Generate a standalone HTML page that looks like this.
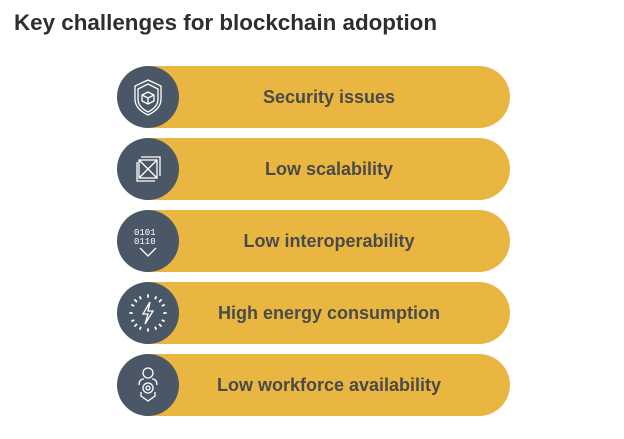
<!DOCTYPE html>
<html><head><style>
body{margin:0;width:624px;height:439px;background:#fff;font-family:"Liberation Sans",sans-serif;position:relative;overflow:hidden}
.t{position:absolute;left:14px;top:10px;font-size:22.4px;font-weight:bold;color:#2e2e2e}
.bar{position:absolute;left:150px;width:360px;height:62px;background:#E9B741;border-radius:0 31px 31px 0}
.lab{position:absolute;left:150px;width:358px;height:62px;line-height:62px;text-align:center;font-weight:bold;font-size:18px;color:#4a4a48}
.c{position:absolute;left:117px;width:62px;height:62px;border-radius:50%;background:#4A5766}
.c svg{position:absolute;left:0;top:0}
</style></head><body>
<div class="t">Key challenges for blockchain adoption</div>

<div class="bar" style="top:66px"></div><div class="lab" style="top:66px">Security issues</div>
<div class="c" style="top:66px"><svg width="62" height="62" fill="none" stroke="#fff" stroke-width="1.3"><path d="M31 14 L44 20 L44 33 Q44 43 31 49 Q18 43 18 33 L18 20 Z"/><path d="M31 18 L41 23 L41 33 Q41 41 31 46 Q21 41 21 33 L21 23 Z"/><path d="M31 26 L37 29 L37 35 L31 38 L25 35 L25 29 Z M25 29 L31 32 L37 29 M31 32 L31 38"/></svg></div>

<div class="bar" style="top:138px"></div><div class="lab" style="top:138px">Low scalability</div>
<div class="c" style="top:138px"><svg width="62" height="62" fill="none" stroke="#fff" stroke-width="1.3"><rect x="22" y="22" width="18" height="18"/><path d="M22 22 L40 40 M40 22 L22 40 M24 19 H43 V38 M20 24 V43 H38"/></svg></div>

<div class="bar" style="top:210px"></div><div class="lab" style="top:210px">Low interoperability</div>
<div class="c" style="top:210px"><svg width="62" height="62" fill="none" stroke="#fff" stroke-width="1.3"><text x="17" y="25" fill="#fff" stroke="none" font-size="9" font-family="Liberation Mono">0101</text><text x="17" y="34" fill="#fff" stroke="none" font-size="9" font-family="Liberation Mono">0110</text><path d="M23 38 L31 46 L39 38"/></svg></div>

<div class="bar" style="top:282px"></div><div class="lab" style="top:282px">High energy consumption</div>
<div class="c" style="top:282px"><svg width="62" height="62" fill="none" stroke="#fff" stroke-width="1.3"><path d="M33 20 L26 32 L31 32 L28 42 L36 29 L31 29 Z"/><g stroke-width="1.8" stroke-linecap="round"><path d="M31 13v2M31 47v2M13 31h2M47 31h2M18 18l1.5 1.5M44 18l-1.5 1.5M18 44l1.5-1.5M44 44l-1.5-1.5M23 15l.7 1.6M39 15l-.7 1.6M23 47l.7-1.6M39 47l-.7-1.6M15 23l1.6.7M47 23l-1.6.7M15 39l1.6-.7M47 39l-1.6-.7"/></g></svg></div>

<div class="bar" style="top:354px"></div><div class="lab" style="top:354px">Low workforce availability</div>
<div class="c" style="top:354px"><svg width="62" height="62" fill="none" stroke="#fff" stroke-width="1.3"><circle cx="31" cy="19" r="5"/><path d="M22 31 Q22 25 27 25 M40 31 Q40 25 35 25"/><circle cx="31" cy="34" r="5"/><circle cx="31" cy="34" r="2"/><path d="M24 38 L24 42 L31 47 L38 42 L38 38"/></svg></div>
</body></html>
